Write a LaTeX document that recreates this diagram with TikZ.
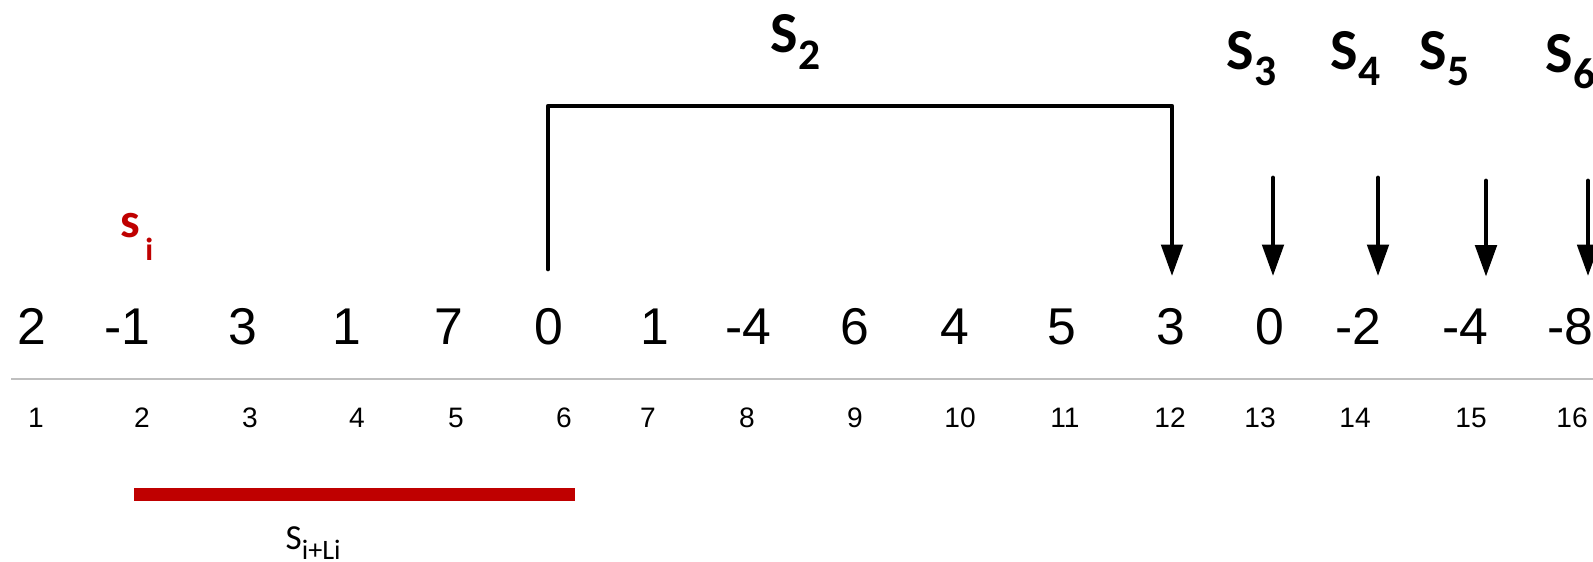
\documentclass[tikz,border=0pt]{standalone}
\usepackage{graphicx}
\usepackage{fontspec}
\setmainfont{Liberation Sans}
\newfontfamily\calibri{Carlito}
\usetikzlibrary{arrows.meta,calc}
\definecolor{MarkClr}{rgb}{0.75,0,0}
\definecolor{RuleClr}{rgb}{0.75,0.75,0.75}
\newcommand\lowsub[3]{\raisebox{-#1em}{\scalebox{#2}{#3}}}

\tikzset{
  val/.style={anchor=base,inner sep=0pt,font=\fontsize{14.7}{16}\selectfont},
  idx/.style={anchor=base,inner sep=0pt,font=\fontsize{8}{9}\selectfont},
  seg/.style={anchor=base west,inner sep=0pt,font=\calibri\bfseries\fontsize{16.5}{19}\selectfont},
  pointer/.style={line width=1.35pt,line cap=round,line join=round,
    -{Triangle[length=9pt,width=6pt]},shorten >=9.1pt},
}

\begin{document}
\begin{tikzpicture}[x=0.01cm,y=-0.01cm]
\useasboundingbox (0,0) rectangle (1593,562);
\clip (0,0) rectangle (1593,562);

\foreach \x/\v [count=\i] in {32/2,127/-1,243/3,347/1,449/7,549/0,655/1,748/-4,
  855/6,955/4,1062/5,1171/3,1270/0,1358/-2,1465/-4,1570/-8}
  \node[val] (v\i) at (\x,345) {\v};

\foreach \x [count=\i] in {36,142,250,357,456,564,648,747,855,960,1065,1170,
  1260,1355,1471,1572}
  \node[idx] (n\i) at (\x,428) {\i};

\draw[RuleClr,line width=0.45pt] (11,379) -- (1593,379);
\fill[MarkClr] (134,488.5) rectangle (575,501.5);

\node[seg,text=MarkClr,font=\calibri\bfseries\fontsize{14}{16}\selectfont] (si) at (120,238) {s\hspace{.1em}\lowsub{.45}{.65}{i}};
\node[anchor=base west,inner sep=0pt,font=\calibri\fontsize{10}{12}\selectfont] (sil) at (285,550) {S\lowsub{.28}{.8}{i+Li}};

\node[seg] (s2) at (770,53) {S\lowsub{.28}{.75}{2}};
\node[seg] (s3) at (1226,70) {S\lowsub{.26}{.75}{3}};
\node[seg] (s4) at (1330,70) {S\lowsub{.26}{.75}{4}};
\node[seg] (s5) at (1419,70) {S\lowsub{.26}{.75}{5}};
\node[seg] (s6) at (1545,73) {S\lowsub{.26}{.75}{6}};

\coordinate (b6) at (548,269);
\coordinate (b12) at (1172,106);
\coordinate (a13) at (1273,178);
\coordinate (a14) at (1378,178);
\coordinate (a15) at (1486,181);
\coordinate (a16) at (1588,181);

\draw[pointer] (b6) |- (b12) -- (b12 |- v12.north);
\draw[pointer] (a13) -- (a13 |- v13.north);
\draw[pointer] (a14) -- (a14 |- v14.north);
\draw[pointer] (a15) -- (a15 |- v15.north);
\draw[pointer] (a16) -- (a16 |- v16.north);

\end{tikzpicture}
\end{document}
